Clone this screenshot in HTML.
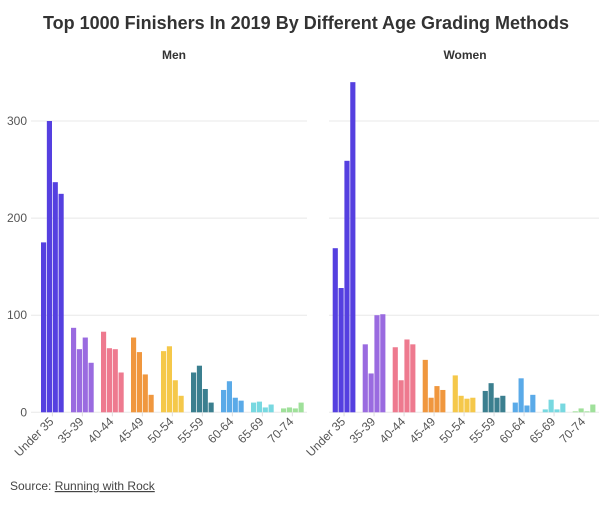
<!DOCTYPE html>
<html><head><meta charset="utf-8"><style>
body{margin:0;background:#fff;width:612px;height:503px;overflow:hidden;font-family:"Liberation Sans",sans-serif}
</style></head><body>
<svg id="c" width="612" height="503" xmlns="http://www.w3.org/2000/svg">
<text x="306" y="29" text-anchor="middle" font-size="18" font-weight="bold" fill="#333">Top 1000 Finishers In 2019 By Different Age Grading Methods</text>
<text x="174" y="59" text-anchor="middle" font-size="12" font-weight="bold" fill="#333">Men</text>
<text x="465" y="59" text-anchor="middle" font-size="12" font-weight="bold" fill="#333">Women</text>
<text x="10" y="490" font-size="12" fill="#444">Source: <tspan text-decoration="underline">Running with Rock</tspan></text>
</svg>
<script>
const categories=["Under 35","35-39","40-44","45-49","50-54","55-59","60-64","65-69","70-74"];
const colors=["#5540e0","#9a6be0","#ee7a8f","#f0973e","#f5c84a","#3b7f8f","#5aaae8","#78d8e0","#9fe09a"];
const yTicks=[0,100,200,300];
const menValues=[[175,300,237,225],[87,65,77,51],[83,66,65,41],[77,62,39,18],[63,68,33,17],[41,48,24,10],[23,32,15,12],[10,11,5,8],[4,5,4,10]];
const womenValues=[[169,128,259,340],[70,40,100,101],[67,33,75,70],[54,15,27,23],[38,17,14,15],[22,30,15,17],[10,35,7,18],[3,13,3,9],[1,4,1,8]];
const svg=document.getElementById('c');
const NS='http://www.w3.org/2000/svg';
function mk(t,a){const e=document.createElementNS(NS,t);for(const k in a)e.setAttribute(k,a[k]);svg.appendChild(e);return e;}
const base=412.3, pxPer=0.971;
function y(v){return base-v*pxPer;}
function panel(vals,x0,gridL,gridR,showY,name){
  yTicks.forEach(t=>{
    const g=mk('line',{x1:gridL,x2:gridR,y1:y(t),y2:y(t),stroke:'#e8e8e8','stroke-width':1});
    
    
    if(showY){const l=mk('text',{x:27,y:y(t)+4,'text-anchor':'end','font-size':12,fill:'#555'});l.textContent=t;
      
      }
  });
  const band=30,bw=5.85;
  categories.forEach((c,i)=>{
    const gx=x0+i*band;
    vals[i].forEach((v,j)=>{
      const r=mk('rect',{x:gx+j*bw,y:y(v),width:bw-0.7,height:v*pxPer,fill:colors[i]});
      
      
    });
    const cx=gx+2*bw-0.35;
    const tk=mk('line',{x1:cx,x2:cx,y1:base,y2:base+4,stroke:'#ddd'});
    
    
    const l=mk('text',{x:cx+2,y:base+10,'text-anchor':'end','font-size':12,fill:'#555',transform:`rotate(-45 ${cx+2} ${base+10})`});
    l.textContent=c;
    
    
  });
}
panel(menValues,41,31,307,true,'men');
panel(womenValues,332.7,329,599,false,'women');
</script>
</body></html>
